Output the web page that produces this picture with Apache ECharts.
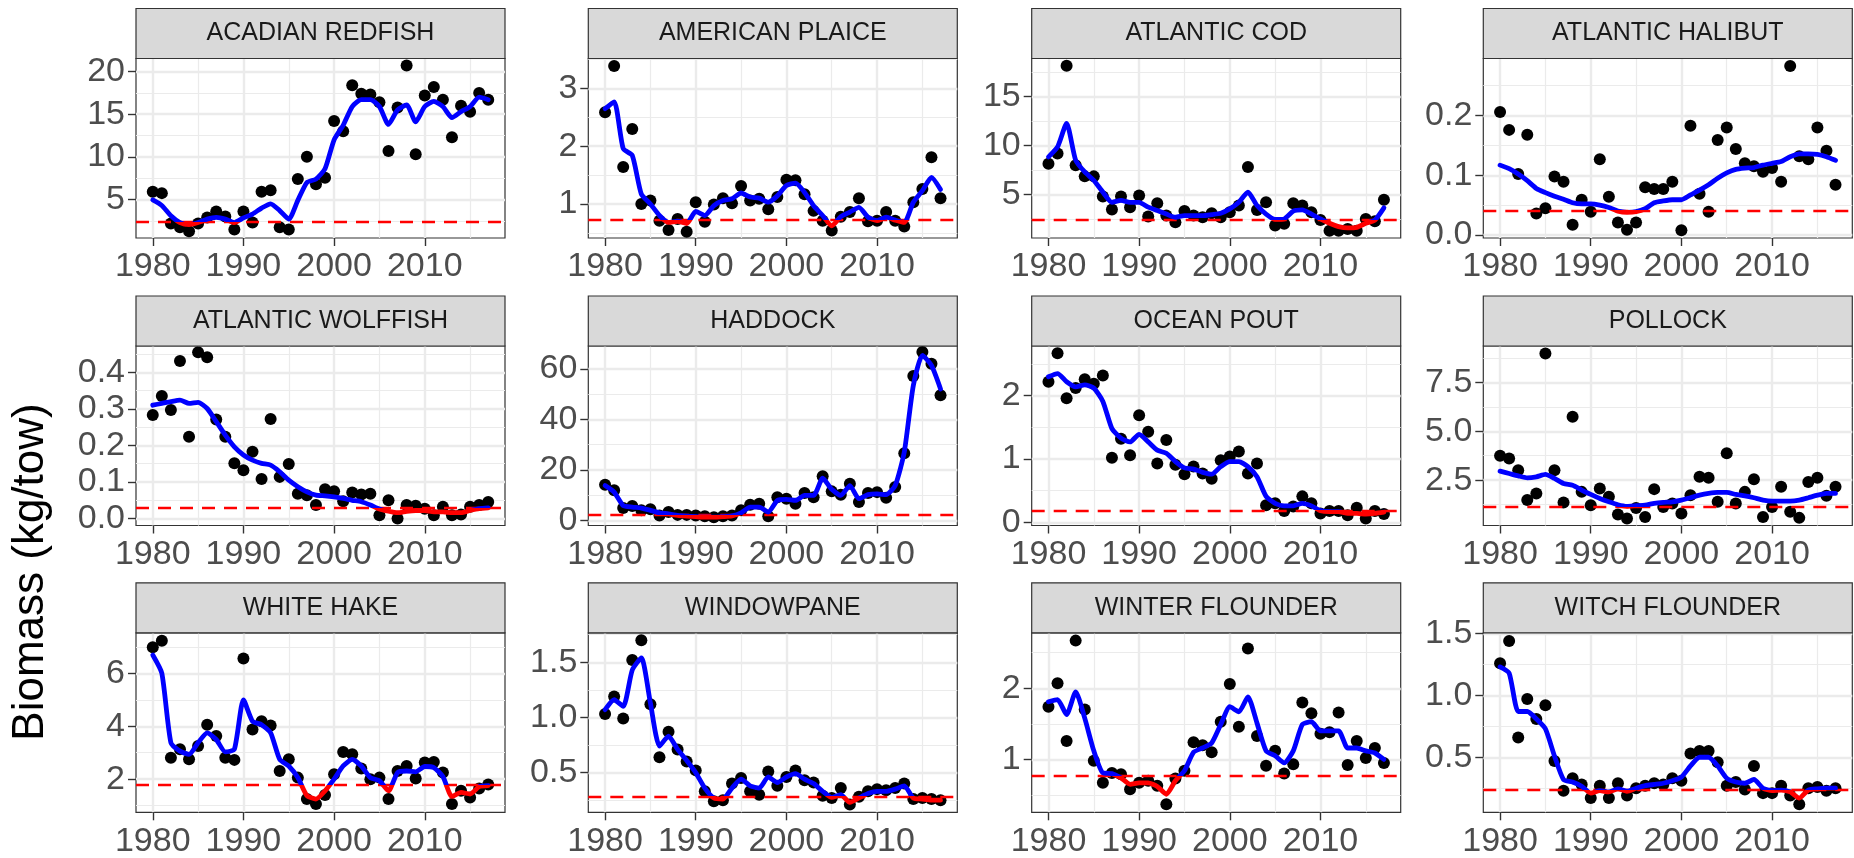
<!DOCTYPE html>
<html>
<head>
<meta charset="utf-8">
<script src="https://cdn.jsdelivr.net/npm/echarts@6/dist/echarts.min.js"></script>
<style>html,body{margin:0;padding:0;background:#fff}#chart{width:1854px;height:858px}</style>
</head>
<body>
<div id="chart"></div>
<script>
const years = [1980,1981,1982,1983,1984,1985,1986,1987,1988,1989,1990,1991,1992,1993,1994,1995,1996,1997,1998,1999,2000,2001,2002,2003,2004,2005,2006,2007,2008,2009,2010,2011,2012,2013,2014,2015,2016,2017];
const speciesNames = ['ACADIAN REDFISH','AMERICAN PLAICE','ATLANTIC COD','ATLANTIC HALIBUT','ATLANTIC WOLFFISH','HADDOCK','OCEAN POUT','POLLOCK','WHITE HAKE','WINDOWPANE','WINTER FLOUNDER','WITCH FLOUNDER'];

const acadianRedfishBiomass = [5.9,5.75,2.2,1.75,1.27,2.2,2.9,3.6,3.0,1.5, 3.6,2.3,5.9,6.1,1.75,1.5,7.4,10.0,6.8,7.55, 14.2,13.0,18.4,17.4,17.3,16.4,10.7,15.8,20.7,10.3, 17.2,18.2,16.7,12.3,16.0,15.3,17.5,16.7];
const acadianRedfishTrend = [4.95,4.3,3.1,2.3,2.05,2.3,2.7,2.9,2.7,2.3, 2.85,3.3,4.0,4.5,3.7,2.7,4.9,7.0,7.4,8.6, 12.0,13.7,15.9,16.7,16.7,15.9,13.8,15.5,16.1,14.1, 15.9,16.5,15.9,14.6,15.3,15.9,17.0,16.7];

const americanPlaiceBiomass = [2.59,3.39,1.64,2.30,1.00,1.06,0.71,0.55,0.74,0.52, 1.03,0.69,0.99,1.10,1.01,1.31,1.06,1.09,0.91,1.12, 1.42,1.41,1.17,0.88,0.71,0.54,0.78,0.86,1.10,0.70, 0.71,0.86,0.71,0.61,1.03,1.26,1.81,1.10];
const americanPlaiceTrend = [2.65,2.77,1.96,1.84,1.17,1.00,0.80,0.68,0.70,0.66, 0.87,0.80,0.97,1.06,1.09,1.19,1.12,1.10,1.03,1.14, 1.32,1.36,1.20,0.97,0.80,0.62,0.78,0.86,0.94,0.77, 0.71,0.77,0.72,0.68,1.03,1.23,1.46,1.25];

const atlanticCodBiomass = [8.15,9.18,18.15,7.98,6.85,6.85,4.8,3.46,4.8,3.7, 4.9,2.74,4.1,2.84,2.16,3.3,2.84,2.67,3.08,2.67, 3.18,3.87,7.8,3.42,4.2,1.82,2.0,4.1,3.87,3.18, 2.4,1.3,1.3,1.47,1.3,2.5,2.26,4.45];
const atlanticCodTrend = [8.84,9.86,12.26,8.5,7.3,6.44,5.24,4.2,4.4,4.2, 4.2,3.7,3.36,3.0,2.67,2.84,2.84,2.84,2.95,3.08, 3.53,4.2,5.24,3.87,3.0,2.45,2.5,3.29,3.42,3.0, 2.5,2.05,1.71,1.58,1.64,2.05,2.38,3.63];

const atlanticHalibutBiomass = [0.206,0.176,0.102,0.168,0.036,0.045,0.098,0.089,0.017,0.059, 0.039,0.127,0.064,0.021,0.009,0.021,0.080,0.077,0.077,0.089, 0.008,0.183,0.069,0.039,0.159,0.180,0.144,0.120,0.115,0.106, 0.112,0.089,0.283,0.132,0.127,0.180,0.141,0.084];
const atlanticHalibutTrend = [0.117,0.111,0.102,0.091,0.078,0.071,0.065,0.060,0.054,0.052, 0.052,0.050,0.046,0.040,0.038,0.039,0.044,0.054,0.057,0.059, 0.059,0.067,0.075,0.084,0.095,0.104,0.110,0.112,0.113,0.117, 0.120,0.123,0.131,0.136,0.136,0.135,0.131,0.125];

const atlanticWolffishBiomass = [0.283,0.335,0.297,0.431,0.224,0.455,0.441,0.271,0.224,0.151, 0.132,0.183,0.108,0.272,0.114,0.149,0.068,0.064,0.037,0.080, 0.075,0.047,0.071,0.066,0.068,0.009,0.050,0.000,0.037,0.035, 0.027,0.009,0.032,0.009,0.011,0.032,0.037,0.045];
const atlanticWolffishTrend = [0.310,0.315,0.320,0.324,0.315,0.318,0.301,0.265,0.228,0.196, 0.174,0.160,0.151,0.146,0.128,0.105,0.087,0.073,0.064,0.062, 0.059,0.055,0.050,0.046,0.037,0.026,0.020,0.016,0.020,0.022, 0.022,0.018,0.018,0.016,0.016,0.022,0.027,0.029];

const haddockBiomass = [14.1,11.9,4.9,5.7,4.0,4.4,2.0,3.3,2.2,2.2, 2.0,1.7,1.3,1.7,2.0,4.0,6.2,6.6,1.7,9.2, 8.6,6.6,10.9,9.2,17.5,11.5,10.2,14.5,7.3,10.9, 11.2,9.0,13.2,26.6,57.1,66.6,62.0,49.5];
const haddockTrend = [13.8,11.2,5.9,5.3,4.9,4.0,3.0,2.6,2.0,1.7, 1.5,1.3,1.3,1.5,1.8,3.0,5.3,5.3,3.3,7.9, 8.3,7.9,9.9,9.9,16.7,12.3,9.9,13.8,8.6,10.2, 10.5,10.2,13.8,27.0,53.4,65.3,61.3,52.0];

const oceanPoutBiomass = [2.22,2.67,1.96,2.12,2.26,2.19,2.32,1.02,1.32,1.06, 1.69,1.43,0.93,1.30,0.91,0.76,0.88,0.77,0.69,0.98, 1.04,1.12,0.77,0.93,0.27,0.30,0.18,0.25,0.41,0.30, 0.14,0.18,0.18,0.11,0.23,0.06,0.18,0.13];
const oceanPoutTrend = [2.30,2.35,2.22,2.14,2.17,2.12,1.91,1.48,1.33,1.27, 1.39,1.27,1.14,1.09,0.96,0.86,0.84,0.79,0.76,0.88, 0.96,0.96,0.88,0.72,0.41,0.30,0.26,0.26,0.30,0.26, 0.185,0.17,0.17,0.14,0.14,0.13,0.14,0.16];

const pollockBiomass = [3.75,3.61,3.01,1.48,1.82,8.98,3.01,1.36,5.74,1.90, 1.22,2.07,1.65,0.74,0.54,1.08,0.62,2.04,1.13,1.31, 0.79,1.73,2.67,2.62,1.39,3.87,1.31,1.90,2.55,0.62, 1.13,2.16,0.88,0.57,2.41,2.62,1.70,2.16];
const pollockTrend = [2.96,2.84,2.72,2.62,2.67,2.79,2.59,2.33,2.24,1.99, 1.77,1.56,1.39,1.24,1.16,1.19,1.22,1.31,1.36,1.39, 1.48,1.60,1.73,1.82,1.87,1.87,1.77,1.70,1.60,1.48, 1.43,1.43,1.43,1.48,1.60,1.73,1.82,1.82];

const whiteHakeBiomass = [6.98,7.23,2.81,3.13,2.75,3.25,4.06,3.63,2.81,2.73, 6.56,3.88,4.19,4.03,2.31,2.75,2.06,1.25,1.06,1.40, 2.19,3.03,2.94,2.40,2.00,2.06,1.25,2.31,2.50,2.03, 2.63,2.65,2.25,1.06,1.56,1.31,1.65,1.80];
const whiteHakeTrend = [6.69,6.0,3.38,3.06,2.94,3.38,3.75,3.50,3.03,3.13, 5.0,4.19,4.06,3.75,2.75,2.50,2.06,1.38,1.25,1.56, 2.0,2.5,2.75,2.5,2.06,1.94,1.56,2.25,2.31,2.28, 2.48,2.44,2.1,1.35,1.50,1.44,1.72,1.76];

const windowpaneBiomass = [1.03,1.19,0.99,1.52,1.70,1.12,0.64,0.87,0.71,0.60, 0.52,0.33,0.24,0.25,0.40,0.45,0.33,0.30,0.51,0.38, 0.46,0.52,0.43,0.41,0.29,0.27,0.36,0.21,0.28,0.33, 0.35,0.34,0.36,0.40,0.26,0.27,0.26,0.25];
const windowpaneTrend = [1.07,1.16,1.10,1.43,1.54,1.13,0.74,0.83,0.71,0.61, 0.50,0.36,0.27,0.26,0.36,0.44,0.38,0.36,0.46,0.41, 0.46,0.49,0.44,0.40,0.33,0.275,0.30,0.23,0.27,0.31, 0.33,0.33,0.35,0.38,0.27,0.26,0.25,0.25];

const winterFlounderBiomass = [1.74,2.07,1.26,2.67,1.70,0.98,0.67,0.81,0.79,0.58, 0.67,0.70,0.63,0.37,0.73,0.84,1.24,1.20,1.10,1.53, 2.06,1.46,2.56,1.33,0.91,1.12,0.80,0.93,1.80,1.65, 1.36,1.38,1.66,0.92,1.26,1.02,1.16,0.95];
const winterFlounderTrend = [1.81,1.84,1.63,1.95,1.58,1.12,0.81,0.80,0.74,0.65, 0.67,0.67,0.62,0.51,0.70,0.84,1.10,1.16,1.23,1.49, 1.74,1.67,1.88,1.51,1.12,1.05,0.95,1.12,1.49,1.53, 1.40,1.40,1.40,1.16,1.16,1.12,1.09,1.0];

const witchFlounderBiomass = [1.26,1.44,0.66,0.97,0.81,0.92,0.47,0.23,0.33,0.28, 0.17,0.27,0.17,0.29,0.19,0.25,0.27,0.29,0.28,0.33, 0.31,0.53,0.55,0.55,0.46,0.27,0.30,0.24,0.43,0.21, 0.21,0.27,0.19,0.12,0.25,0.26,0.23,0.25];
const witchFlounderTrend = [1.23,1.18,0.87,0.87,0.81,0.73,0.51,0.32,0.30,0.265, 0.21,0.23,0.22,0.245,0.225,0.25,0.27,0.28,0.29,0.31, 0.34,0.43,0.50,0.50,0.43,0.33,0.30,0.29,0.32,0.25, 0.23,0.235,0.22,0.17,0.235,0.245,0.25,0.25];

const thresholds = [2.41, 0.72, 2.4, 0.042, 0.030, 2.2, 0.19, 1.13, 1.78, 0.284, 0.77, 0.239];

const xTicks = [1980, 1990, 2000, 2010];
const xLimits = [1978.15, 2018.85];
const yTicks = [[5,10,15,20],[1,2,3],[5,10,15],[0,0.1,0.2],[0,0.1,0.2,0.3,0.4],[0,20,40,60],[0,1,2],[2.5,5,7.5],[2,4,6],[0.5,1,1.5],[1,2],[0.5,1,1.5]];
const yTickDecimals = [0,0,0,1,1,0,0,1,0,1,0,1];
const yLimits = [[0.49,21.53],[0.41,3.52],[0.55,18.9],[-0.005,0.2955],[-0.019,0.472],[-2.0,69.0],[-0.05,2.785],[0.18,9.36],[0.75,7.53],[0.14,1.767],[0.256,2.78],[0.055,1.506]];
const yTitle = 'Biomass (kg/tow)';

const biomass = [acadianRedfishBiomass, americanPlaiceBiomass, atlanticCodBiomass, atlanticHalibutBiomass, atlanticWolffishBiomass, haddockBiomass, oceanPoutBiomass, pollockBiomass, whiteHakeBiomass, windowpaneBiomass, winterFlounderBiomass, witchFlounderBiomass];
const trends = [acadianRedfishTrend, americanPlaiceTrend, atlanticCodTrend, atlanticHalibutTrend, atlanticWolffishTrend, haddockTrend, oceanPoutTrend, pollockTrend, whiteHakeTrend, windowpaneTrend, winterFlounderTrend, witchFlounderTrend];

// layout
const FONT = '"Liberation Sans", Arial, Helvetica, sans-serif';
const colLefts = [136, 588.3, 1031.7, 1483.3];
const rowTops = [58.5, 346, 632.8];
const plotW = 369, plotH = 179.5, stripH = 50;
const BLUE = '#0000FF', RED = '#FF0000';

function midBreaks(ticks) {
  const out = [];
  if (ticks.length < 2) return out;
  const step = ticks[1] - ticks[0];
  const ext = [ticks[0] - step].concat(ticks, [ticks[ticks.length - 1] + step]);
  for (let k = 0; k < ext.length - 1; k++) out.push((ext[k] + ext[k + 1]) / 2);
  return out;
}

const grids = [], xAxes = [], yAxes = [], series = [], visualMaps = [], graphics = [];

speciesNames.forEach((name, i) => {
  const col = i % 4, row = Math.floor(i / 4);
  const left = colLefts[col], top = rowTops[row];
  grids.push({left: left, top: top, width: plotW, height: plotH, show: true, borderColor: '#333333', borderWidth: 1.2, backgroundColor: '#FFFFFF', containLabel: false, outerBoundsMode: 'none'});
  xAxes.push({type: 'value', gridIndex: i, min: xLimits[0], max: xLimits[1], z: 6,
    axisLine: {show: false, onZero: false},
    axisTick: {show: true, customValues: xTicks, length: 8, lineStyle: {color: '#333333', width: 1.4}},
    axisLabel: {customValues: xTicks, fontSize: 34, color: '#4D4D4D', margin: 12, fontFamily: FONT, formatter: v => String(Math.round(v))},
    splitLine: {show: false}});
  const dec = yTickDecimals[i];
  yAxes.push({type: 'value', gridIndex: i, min: yLimits[i][0], max: yLimits[i][1], z: 6,
    axisLine: {show: false, onZero: false},
    axisTick: {show: true, customValues: yTicks[i], length: 8, lineStyle: {color: '#333333', width: 1.4}},
    axisLabel: {customValues: yTicks[i], fontSize: 34, color: '#4D4D4D', margin: 11, fontFamily: FONT, formatter: v => Number(v).toFixed(dec)},
    splitLine: {show: false}});

  const ymin = yLimits[i][0], ymax = yLimits[i][1];
  const span = ymax - ymin;
  const gl = [];
  midBreaks(xTicks).filter(v => v > xLimits[0] && v < xLimits[1]).forEach(v => gl.push({xAxis: v, lineStyle: {width: 1.2}}));
  midBreaks(yTicks[i]).filter(v => v > ymin && v < ymax).forEach(v => gl.push({yAxis: v, lineStyle: {width: 1.2}}));
  xTicks.forEach(v => gl.push({xAxis: v, lineStyle: {width: 2.4}}));
  yTicks[i].filter(v => v > ymin && v < ymax).forEach(v => gl.push({yAxis: v, lineStyle: {width: 2.4}}));

  series.push({type: 'line', xAxisIndex: i, yAxisIndex: i, data: [], silent: true, z: 1, animation: false,
    markLine: {z: 1, silent: true, symbol: ['none', 'none'], label: {show: false}, animation: false, emphasis: {disabled: true},
      lineStyle: {color: '#EBEBEB', type: 'solid', width: 1.2}, data: gl}});
  series.push({type: 'scatter', xAxisIndex: i, yAxisIndex: i, silent: true, z: 2, animation: false,
    data: years.map((y, k) => [y, biomass[i][k]]), symbol: 'circle', symbolSize: 12,
    itemStyle: {color: '#000000', opacity: 1, borderWidth: 0}});
  series.push({type: 'line', xAxisIndex: i, yAxisIndex: i, data: [], silent: true, z: 3, animation: false,
    markLine: {z: 3, silent: true, symbol: ['none', 'none'], label: {show: false}, animation: false, emphasis: {disabled: true},
      lineStyle: {color: RED, type: [13, 9], width: 2.4}, data: [{yAxis: thresholds[i]}]}});
  series.push({type: 'line', xAxisIndex: i, yAxisIndex: i, silent: true, z: 4, animation: false,
    data: years.map((y, k) => [y, trends[i][k]]), showSymbol: false, symbol: 'none', smooth: 0.2,
    lineStyle: {width: 4.8, cap: 'round', join: 'round'}});
  visualMaps.push({type: 'piecewise', show: false, dimension: 1, seriesIndex: 4 * i + 3,
    pieces: [{gte: ymin - span, lt: thresholds[i], color: RED}, {gte: thresholds[i], lte: ymax + span, color: BLUE}],
    outOfRange: {color: BLUE}});

  graphics.push({type: 'rect', silent: true, z: 10,
    shape: {x: left, y: top - stripH, width: plotW, height: stripH},
    style: {fill: '#D9D9D9', stroke: '#333333', lineWidth: 1.2}});
  graphics.push({type: 'text', silent: true, z: 11, x: left + plotW / 2, y: top - stripH / 2,
    style: {text: name, font: '25px ' + FONT, fill: '#1A1A1A', align: 'center', verticalAlign: 'middle', textAlign: 'center', textVerticalAlign: 'middle'}});
});

graphics.push({type: 'text', silent: true, x: 31, y: 572, rotation: Math.PI / 2,
  style: {text: yTitle, font: '44px ' + FONT, fill: '#000000', align: 'center', verticalAlign: 'middle', textAlign: 'center', textVerticalAlign: 'middle'}});

const chart = echarts.init(document.getElementById('chart'), null, {renderer: 'canvas'});
chart.setOption({
  backgroundColor: '#FFFFFF',
  animation: false,
  grid: grids,
  xAxis: xAxes,
  yAxis: yAxes,
  visualMap: visualMaps,
  series: series,
  graphic: graphics
});
</script>
</body>
</html>
